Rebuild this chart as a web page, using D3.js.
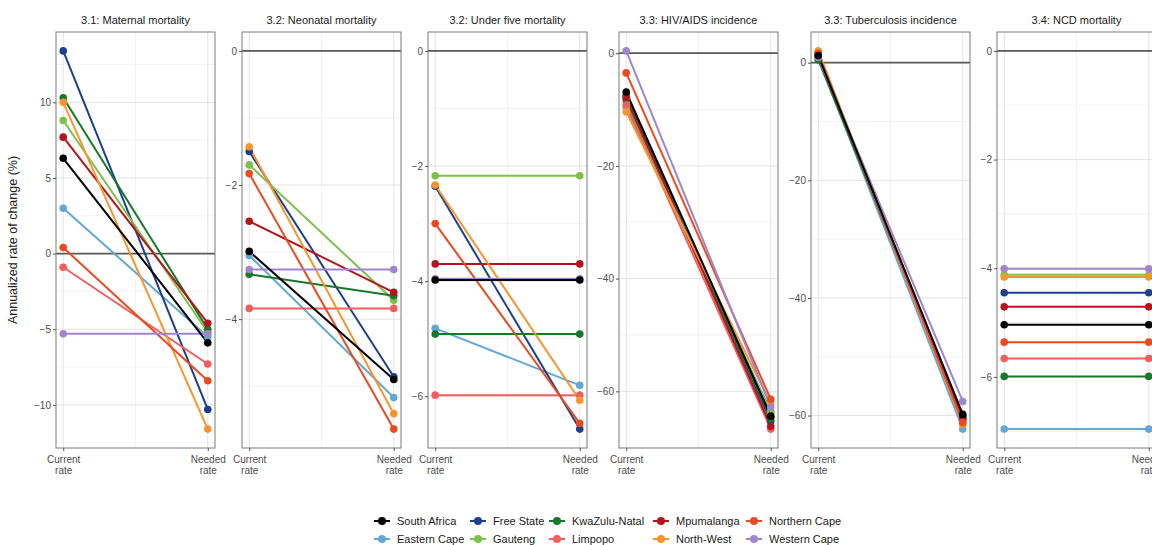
<!DOCTYPE html>
<html>
<head>
<meta charset="utf-8">
<script src="https://cdn.jsdelivr.net/npm/d3@7"></script>
<style>
    body { margin: 0; background: #fff; }
    svg text { font-family: "Liberation Sans", Arial, sans-serif; }
</style>
</head>
<body>
<div id="chart"></div>
<script>
// Regions, in factor order (South Africa is drawn last, on top)
const regions = ['South Africa', 'Eastern Cape', 'Free State', 'Gauteng', 'KwaZulu-Natal',
    'Limpopo', 'Mpumalanga', 'North-West', 'Northern Cape', 'Western Cape'];
const regionColours = ['#000000', '#62a8d6', '#1c3f8e', '#7cc24a', '#17782a',
    '#ef5f5c', '#b3151f', '#f7952d', '#ea4a1f', '#9f86c9'];

const panelTitles = ['3.1: Maternal mortality', '3.2: Neonatal mortality', '3.2: Under five mortality',
    '3.3: HIV/AIDS incidence', '3.3: Tuberculosis incidence', '3.4: NCD mortality'];
const xLabels = [['Current', 'rate'], ['Needed', 'rate']];
const yTitle = 'Annualized rate of change (%)';

// y tick labels for each panel
const maternalTicks = [-10, -5, 0, 5, 10];
const neonatalTicks = [-4, -2, 0];
const underFiveTicks = [-6, -4, -2, 0];
const hivTicks = [-60, -40, -20, 0];
const tbTicks = [-60, -40, -20, 0];
const ncdTicks = [-6, -4, -2, 0];

// values per region (same order as regions)
const maternalCurrent = [6.3, 3.0, 13.4, 8.8, 10.3, -0.9, 7.7, 10.0, 0.4, -5.3];
const maternalNeeded = [-5.9, -5.5, -10.3, -5.2, -5.0, -7.3, -4.6, -11.6, -8.4, -5.3];
const neonatalCurrent = [-2.99, -3.05, -1.5, -1.7, -3.33, -3.84, -2.54, -1.43, -1.83, -3.26];
const neonatalNeeded = [-4.9, -5.17, -4.86, -3.72, -3.65, -3.84, -3.6, -5.41, -5.64, -3.26];
const underFiveCurrent = [-3.98, -4.82, -2.35, -2.17, -4.92, -5.98, -3.7, -2.33, -3.0, -3.96];
const underFiveNeeded = [-3.98, -5.81, -6.57, -2.17, -4.92, -5.98, -3.7, -6.07, -6.47, -3.96];
const hivCurrent = [-6.9, -9.6, -7.5, -8.8, -8.2, -9.2, -7.8, -10.4, -3.5, 0.4];
const hivNeeded = [-64.4, -63.5, -65.3, -63.8, -64.8, -66.7, -66.2, -62.2, -61.4, -62.8];
const tbCurrent = [1.2, 0.8, 1.0, 1.5, 0.5, 1.8, 1.3, 2.0, 1.6, 0.9];
const tbNeeded = [-59.8, -62.3, -60.5, -60.8, -60.2, -61.0, -60.4, -61.5, -61.2, -57.6];
const ncdCurrent = [-5.04, -6.96, -4.45, -4.12, -5.99, -5.66, -4.71, -4.16, -5.36, -4.01];
const ncdNeeded = [-5.04, -6.96, -4.45, -4.12, -5.99, -5.66, -4.71, -4.16, -5.36, -4.01];

const panels = [
    { title: panelTitles[0], ticks: maternalTicks, current: maternalCurrent, needed: maternalNeeded },
    { title: panelTitles[1], ticks: neonatalTicks, current: neonatalCurrent, needed: neonatalNeeded },
    { title: panelTitles[2], ticks: underFiveTicks, current: underFiveCurrent, needed: underFiveNeeded },
    { title: panelTitles[3], ticks: hivTicks, current: hivCurrent, needed: hivNeeded },
    { title: panelTitles[4], ticks: tbTicks, current: tbCurrent, needed: tbNeeded },
    { title: panelTitles[5], ticks: ncdTicks, current: ncdCurrent, needed: ncdNeeded }
];

class SlopeFacets {
    constructor(panels, containerID, width, height) {
        this.panels = panels;
        this.containerID = containerID;
        this.width = width;
        this.height = height;

        // panel geometry (left edges differ because of free y label widths)
        this.panelLefts = [56, 242, 428, 619, 811, 997];
        this.panelWidth = 159;
        this.panelTop = 32;
        this.panelBottom = 448;

        this.initVis();
    }

    initVis() {
        let vis = this;

        vis.svg = d3.select(vis.containerID)
            .append('svg')
            .attr('width', vis.width)
            .attr('height', vis.height);

        vis.panels.forEach((p, i) => vis.drawPanel(p, i));

        // y axis title
        vis.svg.append('text')
            .attr('transform', `translate(17,${(vis.panelTop + vis.panelBottom) / 2}) rotate(-90)`)
            .attr('text-anchor', 'middle')
            .attr('font-size', 12.5)
            .attr('fill', '#222')
            .text(yTitle);

        vis.drawLegend();
    }

    drawPanel(p, i) {
        let vis = this;
        const left = vis.panelLefts[i];
        const right = left + vis.panelWidth;

        const x = d3.scaleLinear().domain([0.95, 2.05]).range([left, right]);

        // free y scale, always including 0 (the reference line), 5% expansion
        const ext = d3.extent([0, ...p.current, ...p.needed]);
        const pad = (ext[1] - ext[0]) * 0.05;
        const y = d3.scaleLinear()
            .domain([ext[0] - pad, ext[1] + pad])
            .range([vis.panelBottom, vis.panelTop]);

        const g = vis.svg.append('g');

        // minor grid: halfway between major ticks
        const step = p.ticks[1] - p.ticks[0];
        const minors = d3.range(p.ticks[0] - step / 2, p.ticks[p.ticks.length - 1] + step, step)
            .filter(v => v > y.domain()[0] && v < y.domain()[1]);

        g.selectAll('.minor-y').data(minors).join('line')
            .attr('x1', left).attr('x2', right)
            .attr('y1', d => y(d)).attr('y2', d => y(d))
            .attr('stroke', '#f0f0f0').attr('stroke-width', 0.8);

        g.append('line')
            .attr('x1', x(1.5)).attr('x2', x(1.5))
            .attr('y1', vis.panelTop).attr('y2', vis.panelBottom)
            .attr('stroke', '#f0f0f0').attr('stroke-width', 0.8);

        g.selectAll('.major-y').data(p.ticks).join('line')
            .attr('x1', left).attr('x2', right)
            .attr('y1', d => y(d)).attr('y2', d => y(d))
            .attr('stroke', '#e3e3e3').attr('stroke-width', 1);

        g.selectAll('.major-x').data([1, 2]).join('line')
            .attr('x1', d => x(d)).attr('x2', d => x(d))
            .attr('y1', vis.panelTop).attr('y2', vis.panelBottom)
            .attr('stroke', '#e3e3e3').attr('stroke-width', 1);

        // zero reference line
        g.append('line')
            .attr('x1', left).attr('x2', right)
            .attr('y1', y(0)).attr('y2', y(0))
            .attr('stroke', '#595959').attr('stroke-width', 1.6);

        // slopes, South Africa last
        const order = d3.range(1, regions.length).concat([0]);
        const rows = order.map(k => ({
            region: regions[k],
            colour: regionColours[k],
            values: [[1, p.current[k]], [2, p.needed[k]]]
        }));

        const line = d3.line().x(d => x(d[0])).y(d => y(d[1]));

        g.selectAll('.slope').data(rows).join('path')
            .attr('class', 'slope')
            .attr('d', d => line(d.values))
            .attr('fill', 'none')
            .attr('stroke', d => d.colour)
            .attr('stroke-width', 2);

        rows.forEach(r => {
            g.selectAll(null).data(r.values).join('circle')
                .attr('cx', d => x(d[0]))
                .attr('cy', d => y(d[1]))
                .attr('r', 3.8)
                .attr('fill', r.colour);
        });

        // panel border
        g.append('rect')
            .attr('x', left).attr('y', vis.panelTop)
            .attr('width', vis.panelWidth).attr('height', vis.panelBottom - vis.panelTop)
            .attr('fill', 'none').attr('stroke', '#7a7a7a').attr('stroke-width', 1);

        // axes
        const yAxis = d3.axisLeft(y).tickValues(p.ticks).tickSize(3).tickPadding(2)
            .tickFormat(d => d === 0 ? '0' : d3.format('d')(d).replace('-', '\u2212'));
        const ya = g.append('g').attr('transform', `translate(${left},0)`).call(yAxis);
        ya.select('.domain').remove();
        ya.selectAll('line').attr('stroke', '#555');
        ya.selectAll('text').attr('font-size', 10).attr('fill', '#4d4d4d')
            .attr('font-family', '"Liberation Sans", Arial, sans-serif');

        const xAxis = d3.axisBottom(x).tickValues([1, 2]).tickSize(3).tickFormat('');
        const xa = g.append('g').attr('transform', `translate(0,${vis.panelBottom})`).call(xAxis);
        xa.select('.domain').remove();
        xa.selectAll('line').attr('stroke', '#555');
        xa.selectAll('.tick').append('text')
            .attr('text-anchor', 'middle')
            .attr('font-size', 10)
            .attr('fill', '#4d4d4d')
            .selectAll('tspan')
            .data((d, j) => xLabels[j])
            .join('tspan')
            .attr('x', 0)
            .attr('y', (d, j) => 15 + j * 11)
            .text(d => d);

        // facet title
        g.append('text')
            .attr('x', (left + right) / 2)
            .attr('y', 24)
            .attr('text-anchor', 'middle')
            .attr('font-size', 11)
            .attr('fill', '#1a1a1a')
            .text(p.title);
    }

    drawLegend() {
        let vis = this;
        // two rows, filled by column
        const colX = [382, 478, 557, 661, 754];
        const rowY = [521, 539];

        const items = regions.map((r, k) => ({
            region: r,
            colour: regionColours[k],
            col: Math.floor(k / 2),
            row: k % 2
        }));

        const leg = vis.svg.append('g');
        const item = leg.selectAll('.key').data(items).join('g')
            .attr('transform', d => `translate(${colX[d.col]},${rowY[d.row]})`);

        item.append('line')
            .attr('x1', -8).attr('x2', 8)
            .attr('stroke', d => d.colour).attr('stroke-width', 2);
        item.append('circle')
            .attr('r', 4)
            .attr('fill', d => d.colour);
        item.append('text')
            .attr('x', 15)
            .attr('dy', '0.35em')
            .attr('font-size', 11)
            .attr('fill', '#1a1a1a')
            .text(d => d.region);
    }
}

new SlopeFacets(panels, '#chart', 1152, 545);
</script>
</body>
</html>
